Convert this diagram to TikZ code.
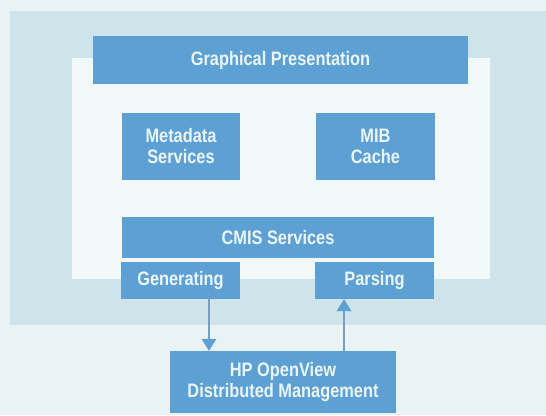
\documentclass[tikz,border=0pt]{standalone}
\usepackage{fontspec}
\setmainfont{Liberation Sans}[FakeStretch=0.84]
\usetikzlibrary{arrows.meta}
\definecolor{bgc}{RGB}{233,243,245}
\definecolor{panelc}{RGB}{206,227,234}
\definecolor{innerc}{RGB}{241,248,248}
\definecolor{boxc}{RGB}{92,160,212}
\definecolor{txtc}{RGB}{236,245,250}
\definecolor{linec}{RGB}{120,158,192}
\tikzset{
  blk/.style={fill=boxc, draw=none, inner sep=0pt, align=center,
    text=txtc, font=\fontsize{19.5}{21}\selectfont\bfseries},
  arr/.style={draw=linec, line width=1.3pt,
    -{Triangle[width=15pt,length=12pt,color=boxc,fill=boxc,line width=0pt]}}
}
\begin{document}
\begin{tikzpicture}[x=1pt,y=-1pt]
\useasboundingbox (0,0) rectangle (546,415);
\fill[bgc] (0,0) rectangle (546,415);
\fill[panelc] (10,11) rectangle (546,325);
\fill[innerc] (72,58) rectangle (490,279);
\node[blk, minimum width=375pt, minimum height=48pt] (gp) at (280.5,60) {Graphical Presentation};
\node[blk, minimum width=118pt, minimum height=67pt] (meta) at (181,146.5) {Metadata\\Services};
\node[blk, minimum width=119pt, minimum height=67pt] (mib) at (375.5,146.5) {MIB\\Cache};
\node[blk, minimum width=312pt, minimum height=41pt] (cmis) at (278,237.5) {CMIS Services};
\node[blk, minimum width=119pt, minimum height=37pt] (gen) at (180.5,280.5) {Generating};
\node[blk, minimum width=119pt, minimum height=37pt] (par) at (374.5,280.5) {Parsing};
\node[blk, minimum width=226pt, minimum height=62pt] (hp) at (283,382) {HP OpenView\\Distributed Management};
\coordinate (xa) at (209,0);
\coordinate (xb) at (344,0);
\draw[arr] (gen.south -| xa) -- (hp.north -| xa);
\draw[arr] (hp.north -| xb) -- (par.south -| xb);
\end{tikzpicture}
\end{document}
